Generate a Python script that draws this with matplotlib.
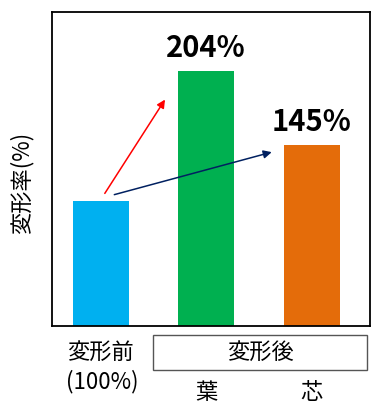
import matplotlib.pyplot as plt
from matplotlib.patches import Rectangle
import matplotlib.transforms as mtransforms

plt.rcParams['font.family'] = ['Noto Sans CJK JP', 'DejaVu Sans']

# データ
categories = ["変形前", "葉", "芯"]
values = [100, 204, 145]
colors = ["#00B0F0", "#00B050", "#E46C0A"]
value_labels = ["", "204%", "145%"]

fig = plt.figure(figsize=(3.85, 4.15), dpi=100)
ax = fig.add_axes([0.135, 0.2145, 0.826, 0.7565])

x = list(range(len(categories)))
ax.bar(x, values, width=0.53, color=colors)
ax.set_xlim(-0.46, 2.55)
ax.set_ylim(0, 251)

# 枠線
for s in ax.spines.values():
    s.set_linewidth(1.3)
    s.set_color("black")
ax.set_xticks([])
ax.set_yticks([])
ax.set_ylabel("変形率(%)", fontsize=16)
ax.yaxis.set_label_coords(-0.058, 0.455)

# 値ラベル
for i, v in enumerate(values):
    if value_labels[i]:
        ax.text(i, v + 6, value_labels[i], ha="center", va="bottom",
                fontsize=21, fontweight="bold")

# 矢印
ax.annotate("", xy=(0.61, 181), xytext=(0.04, 106),
            arrowprops=dict(arrowstyle="-|>", color="#FF0000", lw=1.1,
                            mutation_scale=12, shrinkA=0, shrinkB=0))
ax.annotate("", xy=(1.62, 139), xytext=(0.13, 105),
            arrowprops=dict(arrowstyle="-|>", color="#002060", lw=1.1,
                            mutation_scale=12, shrinkA=0, shrinkB=0))

# 下のラベル
trans = mtransforms.blended_transform_factory(ax.transData, ax.transAxes)
fs = 16
ax.text(0, -0.083, "変形前", transform=trans, ha="center", va="center", fontsize=fs)
ax.text(0.02, -0.178, "(100%)", transform=trans, ha="center", va="center", fontsize=fs)
ax.text(1, -0.213, categories[1], transform=trans, ha="center", va="center", fontsize=fs)
ax.text(2, -0.213, categories[2], transform=trans, ha="center", va="center", fontsize=fs)

ax.add_patch(Rectangle((0.318, -0.140), 0.672, 0.111, transform=ax.transAxes,
                       fill=False, edgecolor="#555555", lw=1.0, clip_on=False))
ax.text(0.654, -0.085, "変形後", transform=ax.transAxes, ha="center", va="center",
        fontsize=fs)

fig.savefig("out.png", dpi=100)
